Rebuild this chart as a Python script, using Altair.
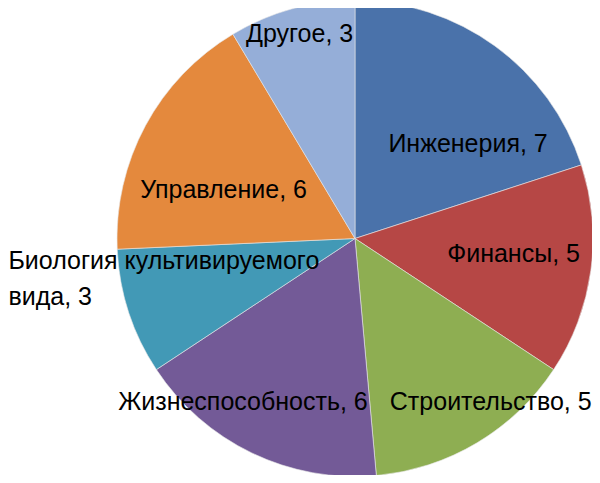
import altair as alt
import pandas as pd

# ---- data ----
CATEGORIES = ["Инженерия", "Финансы", "Строительство", "Жизнеспособность",
              "Биология культивируемого вида", "Управление", "Другое"]
VALUES = [7, 5, 5, 6, 3, 6, 3]
LABEL_NAMES = ["Инженерия", "Финансы", "Строительство", "Жизнеспособность",
               "Биология культивируемого\nвида", "Управление", "Другое"]

# ---- style ----
COLORS = ["#4A72AA", "#B64745", "#8EAE52", "#735A97", "#4299B6", "#E4893D", "#95AED8"]
FONT = "Liberation Sans"
FONT_SIZE = 25
CX, CY, R = 347, 230.5, 238
# per-label layout: (radius along slice mid-angle, dx, dy, align)
LABEL_LAYOUT = {
    "Инженерия": (143, 29, 21, "center"),
    "Финансы": (159, 1, -6, "center"),
    "Строительство": (210, 28, -17, "center"),
    "Жизнеспособность": (196, -27, -13, "center"),
    "Биология культивируемого вида": (193, -163, -37, "left"),
    "Управление": (139, -9, 17, "center"),
    "Другое": (212, 1, 0, "center"),
}

df = pd.DataFrame({
    "category": CATEGORIES,
    "value": VALUES,
    "order": list(range(len(CATEGORIES))),
    "label": [f"{n}, {v}" for n, v in zip(LABEL_NAMES, VALUES)],
})

pie = alt.Chart(df).mark_arc(radius=R, stroke="#e8e8e8", strokeWidth=0.6).encode(
    x=alt.value(CX),
    y=alt.value(CY),
    theta=alt.Theta("value:Q", stack=True),
    color=alt.Color("category:N", scale=alt.Scale(domain=CATEGORIES, range=COLORS), legend=None),
    order=alt.Order("order:Q", sort="ascending"),
)

label_base = (
    alt.Chart(df)
    .transform_joinaggregate(total="sum(value)")
    .transform_window(cum="sum(value)", sort=[alt.SortField("order", order="ascending")], frame=[None, 0])
    .transform_calculate(angle="2*PI*(datum.cum - datum.value/2)/datum.total")
)

layers = [pie]
for cat in CATEGORIES:
    r, dx, dy, align = LABEL_LAYOUT[cat]
    layers.append(
        label_base.transform_filter(alt.datum.category == cat)
        .mark_text(radius=r, dx=dx, dy=dy, align=align, baseline="middle",
                   font=FONT, fontSize=FONT_SIZE, color="#000000",
                   lineBreak="\n", lineHeight=36)
        .encode(
            x=alt.value(CX),
            y=alt.value(CY),
            theta=alt.Theta("angle:Q", scale=None),
            text="label:N",
        )
    )

chart = alt.layer(*layers).properties(
    width=584, height=467,
    autosize=alt.AutoSizeParams(type="none"),
    padding=0,
).configure_view(stroke=None)

chart.save("out.html", embed_options={"renderer": "svg", "actions": False})
